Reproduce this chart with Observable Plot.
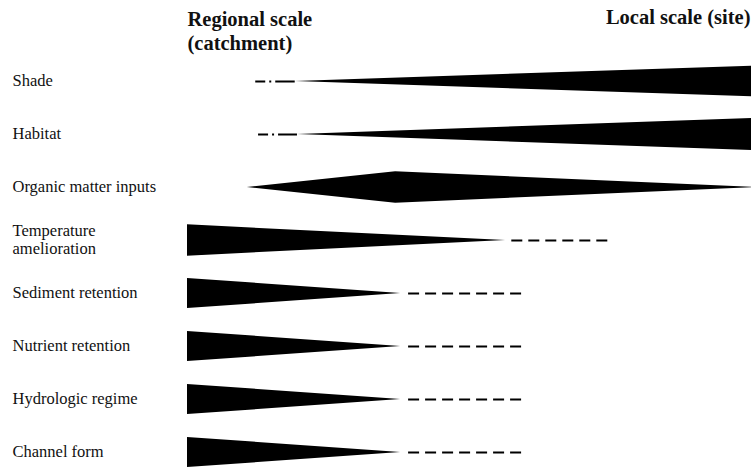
<!DOCTYPE html>
<html>
<head>
<meta charset="utf-8">
<script src="https://cdn.jsdelivr.net/npm/d3@7"></script>
<script src="https://cdn.jsdelivr.net/npm/@observablehq/plot@0.6"></script>
<style>
  html, body { margin: 0; padding: 0; background: #fff; }
  #chart svg { display: block; }
  #chart svg text { font-family: "Liberation Serif", "Times New Roman", serif !important; }
</style>
</head>
<body>
<div id="chart"></div>
<script>
// Row labels (top to bottom)
const rows = [
  "Shade",
  "Habitat",
  "Organic matter inputs",
  "Temperature\namelioration",
  "Sediment retention",
  "Nutrient retention",
  "Hydrologic regime",
  "Channel form"
];

// Wedge outline points: row index, position along the scale axis (0 = regional, 100 = local), wedge thickness (row units)
const wedgeRow   = [0, 0,     1, 1,     2, 2, 2,          3, 3,     4, 4,     5, 5,     6, 6,     7, 7];
const wedgeX     = [19.1, 100, 19.5, 100, 10.6, 36.9, 100, 0, 56.4, 0, 37.8, 0, 37.8, 0, 37.8, 0, 37.8];
const wedgeWidth = [0, 0.58,  0, 0.6,   0, 0.59, 0.01,    0.59, 0,  0.57, 0, 0.57, 0, 0.57, 0, 0.57, 0];

// Dashed extensions
const dashRow   = [0, 1, 3, 4, 5, 6, 7];
const dashStart = [12.1, 12.6, 57.5, 39.2, 39.2, 39.2, 39.2];
const dashEnd   = [19.1, 19.5, 75.4, 60.3, 60.3, 60.3, 60.3];
const dashKind  = ["dashdot", "dashdot", "dash", "dash", "dash", "dash", "dash"];

// Column headers
const headers = ["Regional scale\n(catchment)", "Local scale (site)"];

const wedges = wedgeRow.map((r, i) => ({row: r, x: wedgeX[i], w: wedgeWidth[i]}));
const dashes = dashRow.map((r, i) => ({row: r, x1: dashStart[i], x2: dashEnd[i], kind: dashKind[i]}));
const labels = rows.map((name, i) => ({row: i, name}));

const font = "Liberation Serif";

const chart = Plot.plot({
  width: 751,
  height: 470,
  marginLeft: 187,
  marginRight: 0,
  marginTop: 0,
  marginBottom: 0,
  style: {background: "#fff"},
  x: {domain: [0, 100], axis: null},
  y: {domain: [0, 7], range: [81, 452], axis: null},
  marks: [
    Plot.areaY(wedges, {
      x: "x",
      y1: d => d.row - d.w / 2,
      y2: d => d.row + d.w / 2,
      z: "row",
      fill: "#000",
      curve: "linear"
    }),
    Plot.ruleY(dashes.filter(d => d.kind === "dashdot"), {
      y: "row", x1: "x1", x2: "x2",
      stroke: "#000", strokeWidth: 2, strokeDasharray: "10,4,2,4,20"
    }),
    Plot.ruleY(dashes.filter(d => d.kind === "dash"), {
      y: "row", x1: "x1", x2: "x2",
      stroke: "#000", strokeWidth: 2, strokeDasharray: "11,6"
    }),
    Plot.text(labels, {
      y: "row", text: "name",
      frameAnchor: "left", dx: -175, dy: -1.5, textAnchor: "start",
      fontFamily: font, fontSize: 16.5, fill: "#111", lineHeight: 1.1
    }),
    Plot.text([headers[0]], {
      text: d => d, frameAnchor: "top-left", dx: 0, dy: 9,
      textAnchor: "start", lineAnchor: "top",
      fontFamily: font, fontSize: 20.5, fontWeight: 700, fill: "#111", lineHeight: 1.15
    }),
    Plot.text([headers[1]], {
      text: d => d, frameAnchor: "top-right", dx: -1, dy: 9,
      textAnchor: "end", lineAnchor: "top",
      fontFamily: font, fontSize: 20.5, fontWeight: 700, fill: "#111"
    })
  ]
});
document.getElementById("chart").append(chart);
</script>
</body>
</html>
